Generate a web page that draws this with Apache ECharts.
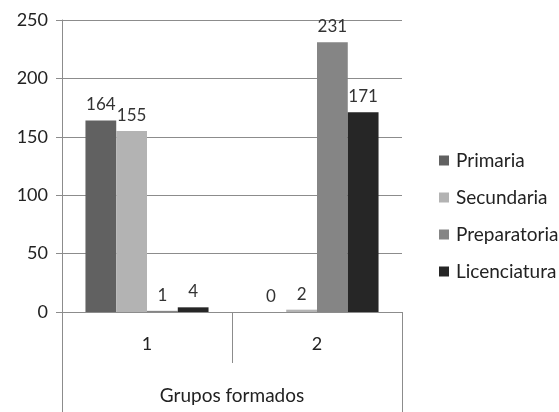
<!DOCTYPE html>
<html>
<head>
<meta charset="utf-8">
<script src="https://cdn.jsdelivr.net/npm/echarts@6/dist/echarts.min.js"></script>
<style>
  html, body { margin: 0; padding: 0; background: #fff; }
  #chart { width: 559px; height: 412px; }
</style>
</head>
<body>
<div id="chart"></div>
<script>
// Students grouped by school level, two groups
const categories = ['1', '2'];
const groupTitle = ['Grupos formados'];
const primaria = [164, 0];
const secundaria = [155, 2];
const preparatoria = [1, 231];
const licenciatura = [4, 171];
const seriesNames = ['Primaria', 'Secundaria', 'Preparatoria', 'Licenciatura'];
const seriesColors = ['#616161', '#b3b3b3', '#858585', '#262626'];

const FONT = 'Lato';
const lineColor = '#8c8c8c';

const chart = echarts.init(document.getElementById('chart'));

const values = [primaria, secundaria, preparatoria, licenciatura];
const series = seriesNames.map((name, i) => ({
  name: name,
  type: 'bar',
  xAxisIndex: 0,
  data: values[i],
  barGap: '0%',
  barCategoryGap: '27.6%',
  itemStyle: { color: seriesColors[i] },
  label: {
    show: true,
    position: 'top',
    distance: 7,
    color: '#333',
    fontFamily: FONT,
    fontSize: 17
  }
}));

chart.setOption({
  animation: false,
  textStyle: { fontFamily: FONT },
  grid: { left: 62, right: 157, top: 20, bottom: 100 },
  legend: {
    orient: 'vertical',
    left: 434,
    top: 145,
    itemWidth: 10,
    itemHeight: 10,
    itemGap: 16,
    icon: 'rect',
    textStyle: { fontFamily: FONT, fontSize: 19, lineHeight: 21, color: '#222', padding: [0, 0, 0, 2] },
    data: seriesNames
  },
  xAxis: [
    {
      type: 'category',
      data: categories,
      position: 'bottom',
      axisLine: { show: true, lineStyle: { color: lineColor } },
      axisTick: { show: true, length: 51, lineStyle: { color: lineColor } },
      axisLabel: { fontFamily: FONT, fontSize: 18, color: '#222', margin: 23 }
    },
    {
      type: 'category',
      data: groupTitle,
      position: 'bottom',
      axisLine: { show: false },
      axisTick: { show: true, length: 100, lineStyle: { color: lineColor } },
      axisLabel: { fontFamily: FONT, fontSize: 19, color: '#222', margin: 74 }
    }
  ],
  yAxis: {
    type: 'value',
    min: 0,
    max: 250,
    interval: 50,
    axisLine: { show: true, lineStyle: { color: lineColor } },
    axisTick: { show: true, length: 6, lineStyle: { color: lineColor } },
    axisLabel: { fontFamily: FONT, fontSize: 18, color: '#222', margin: 14 },
    splitLine: { show: true, lineStyle: { color: lineColor } }
  },
  series: series
});
</script>
</body>
</html>
